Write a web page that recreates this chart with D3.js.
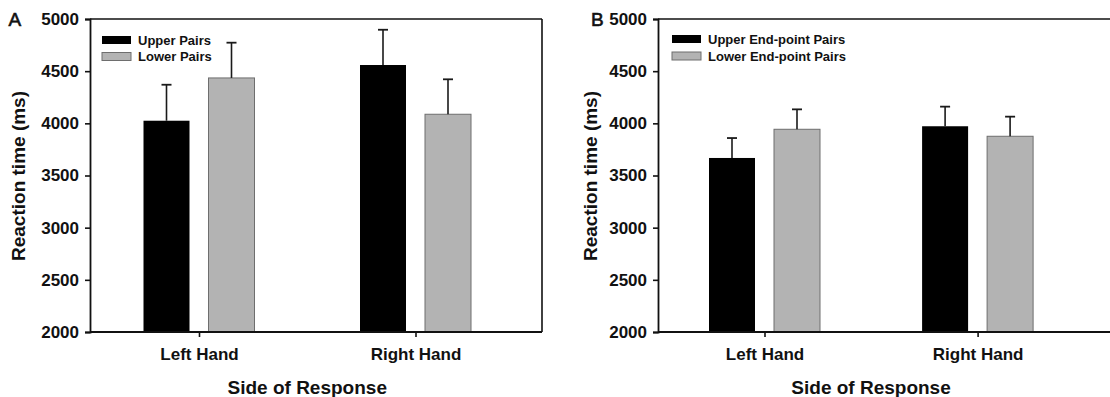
<!DOCTYPE html>
<html>
<head>
<meta charset="utf-8">
<script src="https://cdn.jsdelivr.net/npm/d3@7"></script>
<style>
  html, body { margin: 0; padding: 0; background: #ffffff; }
  svg { display: block; }
  text { font-family: "Liberation Sans", Arial, Helvetica, sans-serif; fill: #111; }
</style>
</head>
<body>
<svg id="chart" width="1110" height="397"></svg>
<script>
// ---- data ----
const categories = ["Left Hand", "Right Hand"];
const yTicks = [2000, 2500, 3000, 3500, 4000, 4500, 5000];

const panelALabels = ["Upper Pairs", "Lower Pairs"];
const panelAUpper = [4025, 4559];
const panelAUpperErr = [345, 338];
const panelALower = [4435, 4087];
const panelALowerErr = [338, 335];

const panelBLabels = ["Upper End-point Pairs", "Lower End-point Pairs"];
const panelBUpper = [3668, 3972];
const panelBUpperErr = [191, 188];
const panelBLower = [3943, 3876];
const panelBLowerErr = [191, 188];

const xTitle = "Side of Response";
const yTitle = "Reaction time (ms)";

// ---- layout ----
const svg = d3.select("#chart");
const plotTop = 19, plotBottom = 332;
const y = d3.scaleLinear().domain([2000, 5000]).range([plotBottom, plotTop]);

const panels = [
  { letter: "A", left: 90, right: 542, cats: [199, 415.5], labels: panelALabels,
    series: [ {vals: panelAUpper, err: panelAUpperErr}, {vals: panelALower, err: panelALowerErr} ],
    yTitleX: 25, letterX: 8.5, legendX: 102, legendY: [36, 52.5], legendTextY: [44.5, 61] },
  { letter: "B", left: 658, right: 1112, cats: [764.5, 977.6], labels: panelBLabels,
    series: [ {vals: panelBUpper, err: panelBUpperErr}, {vals: panelBLower, err: panelBLowerErr} ],
    yTitleX: 597, letterX: 591, legendX: 672, legendY: [35, 52], legendTextY: [43.5, 60.5] }
];

const fills = ["#000000", "#b3b3b3"];
const strokes = ["#000000", "#6e6e6e"];

panels.forEach(p => {
  const g = svg.append("g");
  const x = d3.scalePoint().domain(categories).range(p.cats);
  const inner = d3.scaleBand().domain([0, 1]).range([-55.5, 55.5]).paddingInner(19 / 65).paddingOuter(0);
  const bw = inner.bandwidth();

  // bars
  p.series.forEach((s, si) => {
    const rows = categories.map((c, i) => ({ c, v: s.vals[i], e: s.err[i] }));
    g.selectAll(null).data(rows).enter().append("rect")
      .attr("x", d => x(d.c) + inner(si))
      .attr("y", d => y(d.v))
      .attr("width", bw)
      .attr("height", d => y(2000) - y(d.v))
      .attr("fill", fills[si])
      .attr("stroke", strokes[si])
      .attr("stroke-width", si === 0 ? 0 : 1);
    // error bars (upward only)
    g.selectAll(null).data(rows).enter().append("line")
      .attr("x1", d => x(d.c) + inner(si) + bw / 2)
      .attr("x2", d => x(d.c) + inner(si) + bw / 2)
      .attr("y1", d => y(d.v))
      .attr("y2", d => y(d.v + d.e))
      .attr("stroke", "#1a1a1a").attr("stroke-width", 1.6);
    g.selectAll(null).data(rows).enter().append("line")
      .attr("x1", d => x(d.c) + inner(si) + bw / 2 - 5)
      .attr("x2", d => x(d.c) + inner(si) + bw / 2 + 5)
      .attr("y1", d => y(d.v + d.e))
      .attr("y2", d => y(d.v + d.e))
      .attr("stroke", "#1a1a1a").attr("stroke-width", 1.8);
  });

  // frame (top and right)
  g.append("line").attr("x1", p.left).attr("x2", p.right).attr("y1", plotTop).attr("y2", plotTop)
    .attr("stroke", "#111").attr("stroke-width", 1.6);
  g.append("line").attr("x1", p.right).attr("x2", p.right).attr("y1", plotTop).attr("y2", plotBottom)
    .attr("stroke", "#111").attr("stroke-width", 1.6);

  // y axis
  const yAxis = g.append("g").attr("transform", `translate(${p.left},0)`)
    .call(d3.axisLeft(y).tickValues(yTicks).tickSize(5).tickPadding(6).tickFormat(d3.format("d")));
  yAxis.select(".domain").attr("stroke", "#111").attr("stroke-width", 1.8);
  yAxis.selectAll(".tick line").attr("stroke", "#111").attr("stroke-width", 1.6);
  yAxis.selectAll(".tick text").attr("font-size", 17).attr("font-weight", "bold")
    .attr("font-family", "'Liberation Sans', Arial, sans-serif").attr("fill", "#111");

  // x axis
  const xAxisScale = d3.scalePoint().domain(categories).range(p.cats);
  const xAxis = g.append("g").attr("transform", `translate(0,${plotBottom})`)
    .call(d3.axisBottom(xAxisScale).tickSize(5).tickPadding(11).tickSizeOuter(0));
  xAxis.select(".domain").remove();
  g.append("line").attr("x1", p.left).attr("x2", p.right).attr("y1", plotBottom).attr("y2", plotBottom)
    .attr("stroke", "#111").attr("stroke-width", 1.8);
  xAxis.selectAll(".tick line").attr("stroke", "#111").attr("stroke-width", 1.6);
  xAxis.selectAll(".tick text").attr("font-size", 17).attr("font-weight", "bold")
    .attr("font-family", "'Liberation Sans', Arial, sans-serif").attr("fill", "#111");

  // x title
  g.append("text")
    .attr("x", (p.cats[0] + p.cats[1]) / 2).attr("y", 393.5)
    .attr("text-anchor", "middle").attr("font-size", 19).attr("font-weight", "bold")
    .text(xTitle);

  // y title
  g.append("text")
    .attr("transform", `translate(${p.yTitleX},176) rotate(-90)`)
    .attr("text-anchor", "middle").attr("font-size", 19).attr("font-weight", "bold")
    .text(yTitle);

  // panel letter
  g.append("text").attr("x", p.letterX).attr("y", 26)
    .attr("font-size", 19).attr("font-weight", "normal")
    .attr("stroke", "#111").attr("stroke-width", 0.6).text(p.letter);

  // legend
  p.labels.forEach((lab, i) => {
    g.append("rect").attr("x", p.legendX).attr("y", p.legendY[i])
      .attr("width", 29).attr("height", 8)
      .attr("fill", fills[i]).attr("stroke", strokes[i]).attr("stroke-width", i === 0 ? 0 : 1);
    g.append("text").attr("x", p.legendX + 36).attr("y", p.legendTextY[i])
      .attr("font-size", 13).attr("font-weight", "bold").text(lab);
  });
});
</script>
</body>
</html>
